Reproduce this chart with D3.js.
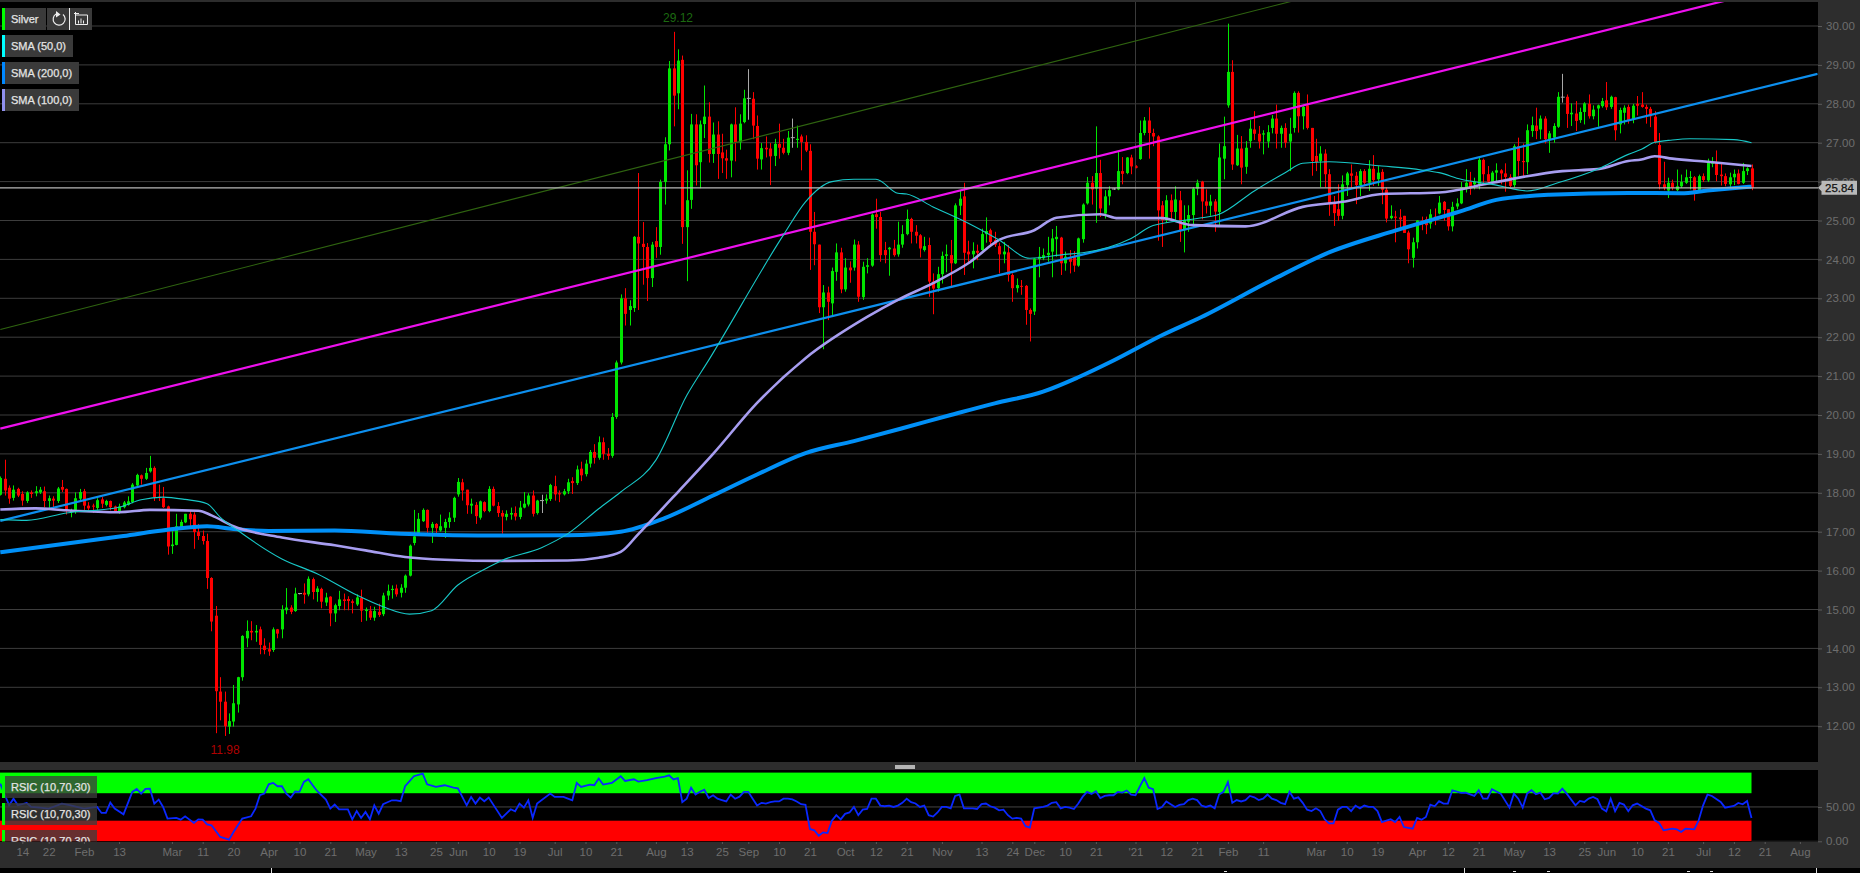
<!DOCTYPE html>
<html><head><meta charset="utf-8">
<script src="https://cdn.jsdelivr.net/npm/d3@7/dist/d3.min.js"></script>
<style>
html,body{margin:0;padding:0;background:#000;overflow:hidden}
svg{display:block}
text{font-family:"Liberation Sans",Arial,sans-serif}
.axis path{display:none}
.axis line{stroke:#5a5a5a}
.axis text{fill:#6e6e6e;font-size:11.5px;font-family:"Liberation Sans",Arial,sans-serif}
</style></head><body><div id="chart"></div>
<script>
const opens=[17.95,18.36,18.13,17.87,18.10,17.97,17.79,18.01,17.99,18.01,
18.04,17.79,17.85,17.79,18.15,18.10,17.50,17.56,17.85,18.04,
17.67,17.67,17.61,17.83,17.69,17.79,17.65,17.50,17.63,17.69,
17.76,18.19,18.45,18.36,18.55,18.64,17.90,17.86,17.65,16.63,
16.66,17.12,17.24,17.46,17.44,16.99,16.89,16.76,15.81,14.84,
12.89,12.63,11.99,12.12,12.56,13.26,14.26,14.45,14.41,14.49,
14.07,13.98,13.96,14.49,14.49,14.98,15.05,14.96,15.41,15.43,
15.39,15.78,15.45,15.53,15.18,15.33,14.90,15.09,15.26,15.27,
15.21,15.13,15.30,14.96,14.97,14.79,14.94,14.88,15.36,15.50,
15.54,15.43,15.56,15.87,16.71,16.97,17.27,17.56,17.10,17.20,
17.03,17.10,17.25,17.36,17.96,18.27,18.08,17.67,17.69,17.36,
17.76,17.53,18.10,17.66,17.48,17.38,17.44,17.48,17.38,17.62,
17.70,17.93,17.48,17.80,17.80,17.84,18.17,17.99,17.96,18.04,
18.30,18.25,18.62,18.48,18.75,19.05,18.90,19.30,19.00,18.95,
19.95,21.35,23.00,22.70,22.75,24.58,24.40,24.32,23.52,24.47,
24.32,25.99,26.96,28.91,28.27,29.13,24.83,25.53,27.47,26.50,
27.48,27.67,26.71,27.21,26.75,26.60,26.54,27.47,27.01,27.53,
28.14,28.13,27.43,26.57,26.87,26.85,26.66,26.97,26.87,26.74,
27.13,27.07,27.16,27.02,26.79,24.71,24.38,22.77,23.15,22.87,
23.68,24.18,23.23,23.79,23.79,24.38,23.03,23.81,23.84,25.16,
25.09,24.24,24.26,24.28,24.13,24.38,24.65,25.04,24.71,24.62,
24.24,24.37,23.43,23.26,23.62,24.09,24.11,23.90,25.38,25.62,
24.20,24.13,24.22,24.24,24.65,24.75,24.50,24.34,24.13,24.18,
23.60,23.26,23.32,23.32,22.70,22.66,24.01,24.03,24.11,24.20,
24.52,24.56,23.90,24.03,24.07,23.84,24.52,25.44,25.97,25.82,
26.22,25.18,25.62,25.81,25.80,26.27,26.22,26.62,26.39,26.58,
27.25,27.57,27.25,27.16,25.39,25.01,25.52,25.22,25.52,24.75,
24.97,25.14,25.82,26.00,25.49,25.38,25.49,25.22,26.59,27.96,
28.82,26.42,26.85,26.38,27.04,27.34,27.23,27.21,27.03,27.38,
27.62,27.23,27.38,27.03,27.38,28.28,27.68,27.96,27.38,26.66,
26.53,26.72,26.19,25.42,25.29,25.12,25.91,26.21,26.15,25.91,
26.27,25.97,26.33,26.06,26.25,25.79,25.06,25.10,25.08,25.12,
24.69,24.04,24.44,25.00,25.03,24.92,25.10,25.18,25.48,25.29,
24.85,25.36,25.44,25.86,25.99,25.93,25.93,26.56,26.19,25.97,
26.23,26.29,26.21,26.12,25.91,26.91,26.53,26.50,27.30,27.44,
27.34,27.62,27.07,27.13,27.41,28.17,28.18,27.73,27.75,27.58,
27.79,28.00,27.68,27.88,27.94,28.09,27.92,28.17,27.47,27.77,
27.92,27.60,28.00,27.98,27.92,27.87,27.67,26.94,25.93,25.77,
25.97,25.78,25.88,25.97,26.10,26.11,25.75,26.14,26.03,26.46,
26.50,26.18,26.14,25.93,26.11,26.21,25.97,26.27,26.34];
const highs=[18.42,18.85,18.19,18.19,18.13,18.04,18.04,18.06,18.17,18.15,
18.16,17.93,17.91,18.15,18.33,18.11,17.59,18.01,18.10,18.10,
17.76,17.72,17.86,17.89,17.82,17.80,17.67,17.72,17.79,17.91,
18.25,18.49,18.47,18.64,18.95,18.68,18.21,18.15,17.67,17.05,
17.46,17.31,17.46,17.53,17.50,17.20,17.03,16.95,15.83,15.09,
13.26,12.89,12.33,13.06,13.27,14.34,14.72,14.70,14.60,14.56,
14.26,14.15,14.54,14.50,15.11,15.55,15.11,15.56,15.42,15.67,
15.85,15.82,15.60,15.56,15.43,15.34,15.15,15.48,15.41,15.34,
15.26,15.39,15.51,15.05,15.09,15.07,15.15,15.43,15.64,15.62,
15.64,15.65,15.90,16.67,17.56,17.48,17.60,17.57,17.25,17.22,
17.44,17.33,17.50,17.90,18.38,18.36,18.08,17.85,17.76,17.80,
17.78,18.17,18.16,17.76,17.55,17.55,17.62,17.65,17.79,18.02,
17.99,18.06,17.82,17.95,17.96,18.23,18.44,18.06,18.10,18.36,
18.40,18.70,18.80,18.85,19.10,19.25,19.45,19.42,19.15,20.05,
21.40,23.10,23.26,22.95,24.60,26.22,24.96,24.42,24.45,24.83,
26.05,27.14,29.10,29.85,29.40,29.24,26.29,27.74,27.73,27.57,
28.47,28.04,27.52,27.55,27.23,26.82,27.49,27.91,27.73,28.36,
28.89,28.30,27.70,26.99,27.16,26.99,27.10,27.49,27.10,27.30,
27.62,27.44,27.21,27.19,26.96,25.22,24.38,23.34,23.30,23.79,
24.41,24.30,24.03,23.95,24.51,24.47,23.94,24.03,25.18,25.56,
25.22,24.45,24.32,24.50,24.97,24.88,25.28,25.07,24.88,24.65,
24.58,24.56,23.64,23.81,24.20,24.38,24.50,25.44,25.78,25.97,
24.48,24.44,24.38,24.79,25.08,24.79,24.71,24.43,24.45,24.37,
23.64,23.51,23.47,23.34,22.74,24.03,24.32,24.28,24.58,24.78,
24.86,24.58,24.20,24.24,24.21,24.56,25.44,26.12,26.14,27.42,
26.56,25.78,25.88,25.83,26.76,26.63,26.63,26.69,26.42,27.57,
27.66,27.91,27.36,27.19,25.50,25.65,25.67,25.88,25.76,25.39,
25.39,25.86,26.05,26.02,25.80,25.66,25.55,26.98,27.67,30.06,
29.12,27.20,27.17,27.04,27.58,27.81,27.43,27.32,27.45,27.71,
27.98,27.44,27.50,27.64,28.32,28.32,27.98,28.24,27.38,27.10,
26.91,26.83,26.32,25.63,25.93,26.16,26.25,26.44,26.25,26.32,
26.32,26.55,26.68,26.40,26.32,25.85,25.39,25.25,25.29,25.12,
24.74,24.56,25.01,25.10,25.10,25.29,25.31,25.63,25.50,25.29,
25.48,25.57,25.99,26.32,26.25,26.10,26.64,26.59,26.40,26.27,
26.47,26.32,26.47,26.19,26.96,27.13,26.98,27.47,27.67,27.90,
27.70,27.68,27.30,27.50,28.30,28.77,28.24,28.01,28.07,27.90,
28.04,28.24,27.96,27.98,28.15,28.56,28.21,28.18,27.90,27.96,
27.98,28.00,28.20,28.30,27.98,27.92,27.81,27.25,26.51,26.10,
26.05,26.31,26.18,26.31,26.27,26.14,26.18,26.21,26.59,26.63,
26.80,26.47,26.21,26.23,26.31,26.31,26.48,26.37,26.44];
const lows=[17.93,17.93,17.72,17.80,17.89,17.67,17.74,17.87,17.91,17.97,
17.63,17.61,17.61,17.74,18.02,17.44,17.37,17.46,17.79,17.55,
17.55,17.48,17.56,17.61,17.65,17.55,17.48,17.46,17.60,17.67,
17.73,18.15,18.21,18.33,18.52,17.79,17.79,17.61,16.41,16.43,
16.65,17.05,17.22,17.12,16.56,16.79,16.67,15.53,14.44,11.82,
12.15,11.75,11.80,11.99,12.35,13.17,14.03,14.21,14.17,13.85,
13.85,13.81,13.91,14.26,14.26,14.88,14.88,14.94,15.39,15.15,
15.34,15.26,15.20,15.03,15.09,14.57,14.68,14.98,14.98,14.98,
14.90,15.09,14.68,14.71,14.73,14.71,14.81,14.83,15.24,15.28,
15.33,15.31,15.43,15.85,16.65,16.97,17.25,16.97,16.71,16.95,
17.00,16.84,17.10,17.25,17.90,17.80,17.46,17.46,17.20,17.31,
17.50,17.50,17.65,17.38,16.95,17.29,17.31,17.29,17.32,17.60,
17.65,17.39,17.44,17.48,17.72,17.79,17.80,17.76,17.93,17.97,
17.97,18.20,18.30,18.42,18.65,18.75,18.85,18.85,18.85,18.90,
19.90,21.30,22.30,22.30,22.65,22.70,23.35,22.93,23.29,24.04,
24.12,25.41,26.80,27.42,27.86,24.40,23.44,25.30,25.90,25.83,
27.12,26.49,26.48,26.07,26.22,26.07,26.11,26.52,26.82,27.50,
27.59,27.09,26.31,26.31,26.62,25.91,26.40,26.59,26.70,26.68,
26.87,26.87,26.29,26.76,23.73,23.85,22.62,21.69,22.44,22.55,
23.45,23.13,23.17,23.40,23.71,22.91,22.96,23.64,23.81,24.79,
23.94,23.90,23.58,24.07,24.07,24.30,24.62,24.41,24.41,24.05,
24.20,23.04,22.59,23.17,23.38,23.67,23.30,23.88,25.14,23.60,
23.90,23.77,23.98,24.22,24.43,24.37,24.32,23.64,23.90,23.43,
22.91,23.15,23.09,22.32,21.89,22.57,23.54,23.98,23.94,23.54,
24.07,23.60,23.71,23.64,23.68,23.81,24.43,25.41,25.41,24.94,
25.09,25.05,25.39,25.79,25.78,25.93,26.19,26.19,26.34,26.56,
27.19,26.59,26.91,24.48,24.32,24.95,25.01,25.01,24.45,24.18,
24.71,24.84,25.65,25.03,25.18,25.12,24.71,24.88,26.06,27.90,
26.30,26.40,25.93,26.20,26.87,27.07,26.85,26.70,26.87,27.24,
26.85,26.87,26.87,26.27,27.26,27.26,27.34,27.34,26.15,26.27,
25.86,25.85,25.12,24.86,24.99,25.03,25.63,25.82,25.42,25.63,
25.89,25.76,25.89,25.89,25.42,24.95,25.03,24.44,24.82,24.68,
23.90,23.79,24.28,24.75,24.65,24.79,24.88,25.16,24.99,24.74,
24.72,25.29,25.42,25.72,25.66,25.80,25.80,25.93,25.93,25.91,
25.97,25.93,25.74,25.85,25.85,26.15,26.13,26.19,27.15,27.09,
27.09,26.98,26.74,27.00,27.38,28.03,27.38,27.43,27.30,27.51,
27.47,27.62,27.60,27.41,27.90,27.84,27.87,27.06,27.24,27.47,
27.49,27.50,27.70,27.90,27.49,27.40,26.98,25.80,25.78,25.58,
25.78,25.75,25.84,25.94,25.80,25.51,25.73,25.99,25.99,26.37,
26.01,25.90,25.88,25.82,25.91,25.93,25.94,26.17,25.78];
const closes=[18.38,18.06,17.85,18.08,17.93,17.80,18.01,17.97,18.04,18.08,
17.79,17.86,17.80,18.11,18.08,17.53,17.54,17.86,18.02,17.67,
17.60,17.65,17.81,17.72,17.79,17.63,17.52,17.65,17.75,17.78,
18.21,18.46,18.36,18.51,18.64,17.89,17.87,17.63,16.62,16.67,
17.14,17.25,17.46,17.32,16.99,16.89,16.76,15.81,14.69,12.90,
12.63,12.00,12.13,12.59,13.26,14.32,14.45,14.41,14.45,14.09,
13.96,13.92,14.49,14.38,15.00,15.05,14.94,15.41,15.41,15.38,
15.79,15.45,15.54,15.20,15.31,14.90,15.11,15.26,15.22,15.22,
15.17,15.31,14.97,15.00,14.79,14.96,14.86,15.36,15.48,15.53,
15.39,15.56,15.87,16.64,16.88,17.33,17.56,17.10,17.20,17.09,
17.14,17.25,17.36,17.87,18.28,18.06,17.68,17.72,17.40,17.78,
17.53,18.10,17.67,17.48,17.39,17.46,17.48,17.39,17.62,17.72,
17.93,17.46,17.80,17.80,17.85,18.20,17.96,17.96,18.04,18.27,
18.25,18.60,18.45,18.75,19.05,18.90,19.30,19.00,18.95,19.95,
21.35,23.00,22.60,22.80,24.58,24.41,24.32,23.52,24.38,24.32,
25.99,26.96,28.91,28.21,29.11,24.83,25.52,27.47,26.42,27.47,
27.67,26.71,27.21,26.71,26.60,26.54,27.47,27.01,27.49,28.14,
28.14,27.44,26.59,26.86,26.83,26.65,26.97,26.87,26.74,27.13,
27.13,27.10,27.02,26.80,24.71,24.39,22.77,23.15,22.91,23.70,
24.18,23.23,23.79,23.72,24.38,23.04,23.81,23.85,25.15,25.09,
24.11,24.11,24.30,24.11,24.38,24.65,25.04,24.71,24.61,24.28,
24.34,23.43,23.25,23.62,24.09,24.13,23.90,25.39,25.56,24.17,
24.13,24.22,24.17,24.65,24.73,24.45,24.38,24.13,24.20,23.60,
23.26,23.34,23.30,22.70,22.60,24.02,24.07,24.11,24.17,24.54,
24.58,23.90,24.07,23.94,23.84,24.54,25.41,25.97,25.80,26.22,
25.31,25.62,25.78,25.81,26.27,26.20,26.62,26.39,26.36,27.25,
27.57,27.25,27.16,25.26,25.01,25.52,25.22,25.54,24.75,25.01,
25.14,25.82,25.97,25.49,25.38,25.49,25.23,26.62,26.91,28.82,
26.44,26.85,26.36,26.87,27.36,27.23,27.03,27.24,27.27,27.62,
27.23,27.38,27.00,27.23,28.28,27.68,27.92,27.38,26.53,26.50,
26.72,26.19,25.44,25.19,25.12,25.93,26.21,26.15,25.91,26.27,
25.97,26.33,26.04,26.23,25.79,25.05,25.12,25.07,25.03,24.68,
24.26,24.44,25.00,24.95,24.88,25.16,25.03,25.46,25.27,24.85,
25.35,25.44,25.86,25.97,25.83,25.99,26.56,26.19,26.00,26.23,
26.29,26.21,26.12,25.89,26.91,26.53,26.50,27.32,27.45,27.30,
27.62,27.09,27.24,27.43,28.18,28.17,27.74,27.77,27.56,27.79,
28.01,27.68,27.85,27.96,28.07,27.91,28.18,27.32,27.84,27.90,
27.57,27.95,27.95,27.92,27.87,27.68,27.02,25.93,25.84,25.97,
25.84,25.88,25.99,26.11,26.12,25.75,26.14,26.04,26.48,26.50,
26.17,26.14,25.94,26.11,26.20,25.94,26.27,26.34,25.84];

const sma50At=[0,6,15,27,32,37,42,47,50,54,64,72,81,87,93,98,104,111,114,123,129,136,141,149,156,161,178,183,189,194,199,204,206,212,220,227,234,242,246,257,262,272,277,285,292,296,302,314,323,327,332,340,347,354,363,370,373,376,380,384,394,398];
const sma50=[17.31,17.29,17.48,17.63,17.82,17.89,17.83,17.72,17.37,17.03,16.3,15.92,15.37,15.07,14.88,14.97,15.63,16.09,16.26,16.59,16.95,17.59,18.02,18.84,20.5,21.41,24.63,25.48,26.0,26.06,26.06,25.7,25.68,25.35,24.93,24.5,24.03,24.13,24.17,24.54,24.87,25.05,25.16,25.76,26.23,26.47,26.51,26.4,26.3,26.23,26.06,25.91,25.76,25.97,26.32,26.7,26.83,27.01,27.07,27.1,27.08,27.0];
const sma100At=[0,8,15,27,34,45,48,53,64,76,83,92,101,114,129,136,141,145,154,162,172,183,197,204,212,220,227,235,240,250,254,264,271,283,296,305,314,327,339,355,363,370,373,376,380,388,398];
const sma100=[17.57,17.6,17.55,17.5,17.56,17.54,17.42,17.14,16.85,16.65,16.52,16.35,16.28,16.25,16.26,16.33,16.48,16.94,18.02,19.0,20.31,21.46,22.52,22.96,23.39,23.9,24.5,24.75,25.07,25.16,25.06,25.06,24.88,24.85,25.35,25.48,25.68,25.72,25.97,26.27,26.32,26.53,26.57,26.65,26.59,26.51,26.4];
const sma200At=[0,28,38,47,53,61,76,91,114,129,141,151,162,172,183,194,205,216,226,237,245,253,264,273,289,302,317,332,340,352,370,382,388,398];
const sma200=[16.47,16.89,17.05,17.14,17.07,17.02,17.03,16.95,16.90,16.91,17.0,17.35,17.93,18.47,19.02,19.33,19.66,20.0,20.3,20.6,20.97,21.4,22.05,22.52,23.47,24.18,24.74,25.24,25.53,25.66,25.71,25.7,25.77,25.87];

const trendAt=[0,413];
const trendMagenta=[19.65,31.24];
const trendBlue=[17.28,28.77];
const trendGreen=[22.2,34.07];

const rsiAt=[0,2,3,4,6,7,9,11,14,16,19,22,23,24,25,26,28,30,31,32,33,34,35,36,37,38,40,41,42,44,45,46,47,48,50,52,53,55,57,58,59,60,61,62,63,64,65,66,67,68,69,70,71,72,74,75,76,77,79,80,81,82,83,84,85,86,87,89,90,91,92,94,96,97,99,101,103,104,106,107,108,109,110,111,114,116,117,118,119,120,121,122,125,126,128,129,130,131,132,134,135,136,137,139,141,142,144,
145,147,149,151,152,153,154,155,156,157,158,159,160,161,162,163,164,165,166,167,168,169,170,171,172,173,174,175,176,177,178,179,180,181,182,183,184,185,186,187,188,189,190,191,192,193,194,195,196,197,198,199,200,201,202,203,204,205,206,207,208,209,210,211,212,213,214,215,216,217,218,219,220,221,222,223,224,225,226,227,228,229,230,231,232,233,234,235,236,237,238,239,240,241,242,243,244,245,246,247,248,249,250,251,252,253,254,255,256,257,258,259,260,261,262,263,264,265,266,267,268,269,270,271,272,273,274,275,276,277,278,279,280,281,282,283,284,285,286,287,288,289,290,291,292,293,294,295,296,297,298,299,300,301,302,303,304,305,306,307,308,309,310,311,312,313,314,315,316,317,
318,319,321,322,323,324,325,326,327,328,329,330,332,333,335,336,337,338,339,341,343,344,345,346,347,348,349,350,351,352,353,354,355,356,358,359,360,361,362,363,364,365,366,367,368,369,370,371,372,374,375,376,377,378,380,381,382,383,385,386,387,388,389,391,392,394,395,396,397,398];
const rsiVal=[84,52.4,62.1,52.4,55.8,50,49,47.6,54.9,52.4,47.6,50,41.3,41.3,56.3,47.6,39.3,71.9,76.2,69.4,76.2,76.7,54.9,60.7,50,33,34,31.5,36.4,26.7,32,31.5,24.7,23.3,6.3,2.4,13.6,33,36.4,47.6,67,69.4,83,85,80.1,80.1,69.4,63.6,72.4,71.9,86.4,90.3,81.6,73.3,60.7,47.6,53.4,46.6,46.6,32,44.2,34,42.7,32,52.4,40.3,53.9,59.7,59.7,58.3,80.1,94.7,98.6,83,79.2,81.6,78.2,77.2,52.4,64.6,54.9,63.6,58.3,63.6,34,46.6,43.7,54.9,49,59.7,34,54.9,69.4,64.6,64.6,62.1,59.7,85,79.2,82.6,81.6,91.3,82.6,85,94.7,87.9,90.3,
87,89,92,94,96,90,92,57,62,78,68,72,75,63,67,62,60,58,68,62,65,72,72,62,52,56,55,57,58,58,62,62,61,58,54,53,18,16,8,13,12,30,38,32,40,42,50,38,46,47,62,62,52,51,52,50,52,56,62,57,55,50,52,38,36,42,50,50,48,66,68,48,48,48,47,54,55,51,49,45,46,38,33,34,33,22,20,48,49,50,52,56,57,48,50,49,47,55,65,72,69,73,63,66,67,67,72,71,74,68,67,80,92,78,76,47,50,58,54,50,53,54,60,62,60,52,50,52,48,68,72,86,56,60,58,60,66,64,60,62,68,62,60,56,54,72,62,64,56,46,44,48,44,32,26,26,46,50,50,44,52,48,52,50,50,44,28,30,32,28,
35.4,20.8,18.4,34,31.5,35.4,53.4,51,58.3,54.9,54.9,74.3,70.4,70.9,66,74.3,62.1,62.1,75.8,69.4,49,69.4,62.1,49,69.4,74.3,68.5,70.9,61.2,63.1,70,69.4,76.7,69.4,52.4,58.7,57.3,62.1,64.6,61.2,47.6,43.7,62.1,43.7,55.8,53.4,43.7,52.4,54.9,47.6,45.1,30.6,26.7,16,18.4,17.4,13.6,18.4,17.4,30.6,52.4,68,66,57.3,49,51.5,55.8,53.9,58.7,34];

const yTicks=[30,29,28,27,26,25,24,23,22,21,20,19,18,17,16,15,14,13,12];
const xTickAt=[5,11,19,27,39,46,53,61,68,75,83,91,99,104,111,118,126,133,140,149,156,164,170,177,184,192,199,206,214,223,230,235,242,249,258,265,272,279,287,299,306,313,322,329,336,344,352,360,365,372,379,387,394,401,409];
const xTickLabels=["14","22","Feb","13","Mar","11","20","Apr","10","21","May","13","25","Jun","10","19","Jul","10","21","Aug","13","25","Sep","10","21","Oct","12","21","Nov","13","24","Dec","10","21","'21","12","21","Feb","11","Mar","10","19","Apr","12","21","May","13","25","Jun","10","21","Jul","12","21","Aug"];
const legendTexts=["SMA (50,0)","SMA (200,0)","SMA (100,0)"];
const legendColors=["#00ffff","#0088ff","#9090ee"];
const rsiLabel="RSIC (10,70,30)";
const lastPrice=25.84, highLabel="29.12", lowLabel="11.98";

const W=1860,H=873,plotR=1818,mainTop=2,mainBot=762,rsiTop=770,rsiBot=842,axisBot=868;
const GRAY="#2d2d2d",GRID="#3d3d3d",GREEN="#00e600",RED="#ff0000";
const svg=d3.select("#chart").append("svg").attr("width",W).attr("height",H).style("background","#000");
const x=d3.scaleLinear().domain([0,398]).range([0.3,1751.5]);
const y=d3.scaleLinear().domain([30,12]).range([26,726.2]);
const yr=d3.scaleLinear().domain([0,100]).range([841.3,772.6]);

const defs=svg.append("defs");
defs.append("clipPath").attr("id","cm").append("rect").attr("x",0).attr("y",mainTop).attr("width",plotR).attr("height",mainBot-mainTop);
defs.append("clipPath").attr("id","cr").append("rect").attr("x",0).attr("y",rsiTop).attr("width",plotR).attr("height",rsiBot-rsiTop-0.5);

// frame
svg.append("rect").attr("width",W).attr("height",2).attr("fill",GRAY);
svg.append("rect").attr("x",plotR).attr("width",W-plotR).attr("height",axisBot).attr("fill",GRAY);
svg.append("rect").attr("y",mainBot).attr("width",plotR).attr("height",rsiTop-mainBot).attr("fill",GRAY);
svg.append("rect").attr("y",rsiBot).attr("width",plotR).attr("height",axisBot-rsiBot).attr("fill",GRAY);
svg.append("rect").attr("x",895).attr("y",765).attr("width",20).attr("height",4).attr("fill","#b5b5b5");

const m=svg.append("g").attr("clip-path","url(#cm)");
m.selectAll("line.g").data(yTicks).join("line").attr("x1",0).attr("x2",plotR).attr("y1",d=>y(d)).attr("y2",d=>y(d)).attr("stroke",GRID).attr("stroke-width",1);
m.append("line").attr("x1",x(258)).attr("x2",x(258)).attr("y1",mainTop).attr("y2",mainBot).attr("stroke","#3a3a3a");

const idx=d3.range(opens.length);
const colr=i=>opens[i]===closes[i]?"#a8a8a8":(closes[i]>opens[i]?GREEN:RED);
m.selectAll("line.w").data(idx).join("line").attr("x1",i=>Math.round(x(i))+0.5).attr("x2",i=>Math.round(x(i))+0.5)
 .attr("y1",i=>y(highs[i])).attr("y2",i=>y(lows[i])).attr("stroke",colr).attr("stroke-width",1);
m.selectAll("rect.b").data(idx.filter(i=>opens[i]!==closes[i])).join("rect").attr("x",i=>Math.round(x(i))-1).attr("width",3)
 .attr("y",i=>y(Math.max(opens[i],closes[i]))).attr("height",i=>Math.max(1,Math.abs(y(opens[i])-y(closes[i])))).attr("fill",colr);
m.selectAll("line.d").data(idx.filter(i=>opens[i]===closes[i])).join("line").attr("x1",i=>x(i)-1.5).attr("x2",i=>x(i)+2.5)
 .attr("y1",i=>y(opens[i])).attr("y2",i=>y(opens[i])).attr("stroke","#a8a8a8");

function pathOf(ats,vals,curve){return d3.line().x((d,i)=>x(ats[i])).y((d,i)=>y(vals[i])).curve(curve)(vals);}
m.append("path").attr("d",pathOf(trendAt,trendGreen,d3.curveLinear)).attr("fill","none").attr("stroke","#2f6410").attr("stroke-width",1.1);
m.append("path").attr("d",pathOf(trendAt,trendMagenta,d3.curveLinear)).attr("fill","none").attr("stroke","#ee10ee").attr("stroke-width",2.2);
m.append("path").attr("d",pathOf(trendAt,trendBlue,d3.curveLinear)).attr("fill","none").attr("stroke","#0d8fee").attr("stroke-width",2.2);
m.append("path").attr("d",pathOf(sma200At,sma200,d3.curveMonotoneX)).attr("fill","none").attr("stroke","#0090f8").attr("stroke-width",4);
m.append("path").attr("d",pathOf(sma100At,sma100,d3.curveMonotoneX)).attr("fill","none").attr("stroke","#a79df0").attr("stroke-width",2.6);
m.append("path").attr("d",pathOf(sma50At,sma50,d3.curveMonotoneX)).attr("fill","none").attr("stroke","#18c8c8").attr("stroke-width",1.1);
m.append("line").attr("x1",0).attr("x2",plotR).attr("y1",y(lastPrice)).attr("y2",y(lastPrice)).attr("stroke","#b8b8b8").attr("stroke-width",1.2);

// extreme labels
svg.append("text").attr("x",678).attr("y",22).attr("text-anchor","middle").attr("font-size",12).attr("fill","#1c6a10").text(highLabel);
svg.append("text").attr("x",225).attr("y",754).attr("text-anchor","middle").attr("font-size",12).attr("fill","#b00000").text(lowLabel);

// y axis
const ya=svg.append("g").attr("class","axis").attr("transform",`translate(${plotR},0)`)
 .call(d3.axisRight(y).tickValues(yTicks).tickSize(4).tickPadding(4).tickFormat(d3.format(".2f")));
// price flag
const yp=y(lastPrice);
svg.append("path").attr("d",`M1818 ${yp} L1821.5 ${yp-3.5} L1821.5 ${yp-7} L1857 ${yp-7} L1857 ${yp+7} L1821.5 ${yp+7} L1821.5 ${yp+3.5} Z`).attr("fill","#b9b9b9");
svg.append("text").attr("x",1825).attr("y",yp+4).attr("font-size",11.5).attr("fill","#111").attr("stroke","#111").attr("stroke-width",0.25).text(lastPrice.toFixed(2));

// RSI panel
const r=svg.append("g").attr("clip-path","url(#cr)");
r.append("rect").attr("x",0).attr("width",x(398)).attr("y",yr(100)).attr("height",yr(70)-yr(100)).attr("fill","#00ff00");
r.append("rect").attr("x",0).attr("width",x(398)).attr("y",yr(30)).attr("height",yr(0)-yr(30)).attr("fill","#ff0000");
r.append("line").attr("x1",0).attr("x2",plotR).attr("y1",yr(50)).attr("y2",yr(50)).attr("stroke","#444");
r.append("line").attr("x1",x(398)).attr("x2",plotR).attr("y1",yr(0)).attr("y2",yr(0)).attr("stroke","#444");
r.append("path").attr("d",d3.line().x((d,i)=>x(rsiAt[i])).y((d,i)=>yr(rsiVal[i]))(rsiVal)).attr("fill","none").attr("stroke","#0a28ff").attr("stroke-width",1.8);
const yra=svg.append("g").attr("class","axis").attr("transform",`translate(${plotR},0)`)
 .call(d3.axisRight(yr).tickValues([50,0]).tickSize(4).tickPadding(4).tickFormat(d3.format(".2f")));

// x axis
const xa=svg.append("g").attr("class","axis").attr("transform",`translate(0,${rsiBot})`)
 .call(d3.axisBottom(x).tickValues(xTickAt).tickSize(2).tickPadding(4).tickFormat((d,i)=>xTickLabels[i]));

// legend
function tag(g,xx,yy,w,col,txt,fill){
 g.append("rect").attr("x",xx+3).attr("y",yy).attr("width",w-3).attr("height",22).attr("fill",fill||"#3a3a3a");
 g.append("rect").attr("x",xx).attr("y",yy).attr("width",3).attr("height",22).attr("fill",col);
 g.append("text").attr("x",xx+9).attr("y",yy+15).attr("font-size",11).attr("fill","#e4e4e4").attr("stroke","#e4e4e4").attr("stroke-width",0.25).text(txt);
}
const lg=svg.append("g");
tag(lg,2,8,44,"#00ff00","Silver");
legendTexts.forEach((t,i)=>tag(lg,2,35+27*i,[71,77,77][i],legendColors[i],t));
lg.append("rect").attr("x",47).attr("y",8).attr("width",22).attr("height",22).attr("fill","#3a3a3a");
lg.append("rect").attr("x",70).attr("y",8).attr("width",22).attr("height",22).attr("fill","#3a3a3a");
lg.append("rect").attr("x",69).attr("y",8).attr("width",1).attr("height",22).attr("fill","#f0f0f0");
lg.append("path").attr("d","M63 14.5 A6 6 0 1 1 56 14").attr("fill","none").attr("stroke","#eee").attr("stroke-width",1.2);
lg.append("path").attr("d","M56 11 L60.5 14.5 L56 17.5 Z").attr("fill","#eee");
lg.append("path").attr("d","M76 15 H87.5 V24.5 H75.5 V15 M78.5 23.5 V20.5 M81 23.5 V18.5 M83.5 23.5 V20.5 M75.5 12 V16 M74 13.5 H79").attr("fill","none").attr("stroke","#eee").attr("stroke-width",1);

const rl=svg.append("g").attr("clip-path","url(#cr)");
[776,803,830].forEach(yy=>{
 rl.append("rect").attr("x",5).attr("y",yy).attr("width",92).attr("height",22).attr("fill","rgba(60,60,60,0.78)");
 rl.append("rect").attr("x",2).attr("y",yy).attr("width",3).attr("height",22).attr("fill","#00ff00");
 rl.append("text").attr("x",11).attr("y",yy+15).attr("font-size",11).attr("fill","#e4e4e4").attr("stroke","#e4e4e4").attr("stroke-width",0.25).text(rsiLabel);
});

// strip marks at the very bottom
svg.append("g").selectAll("line").data([271,1464,1816]).join("line").attr("x1",d=>d+.5).attr("x2",d=>d+.5).attr("y1",axisBot).attr("y2",H).attr("stroke","#ddd");
svg.append("g").selectAll("line").data([1224,1513,1547,1687,1710]).join("line").attr("x1",d=>d).attr("x2",d=>d+3).attr("y1",H-1.5).attr("y2",H-1.5).attr("stroke","#ddd");
</script></body></html>
